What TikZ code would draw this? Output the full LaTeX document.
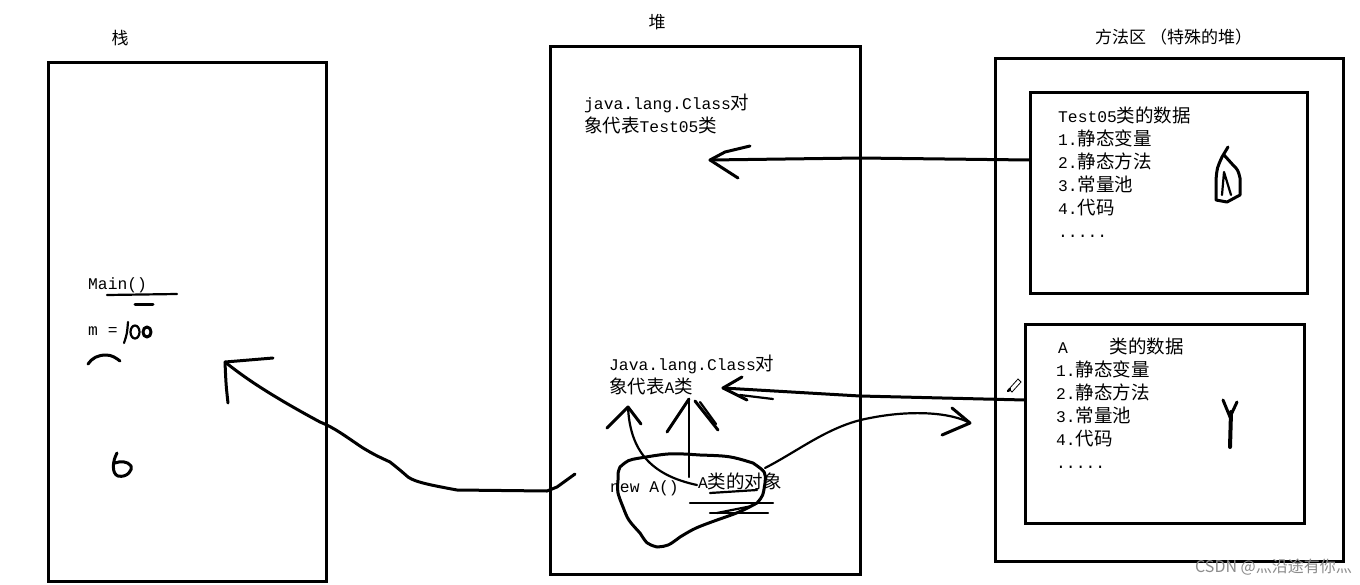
\documentclass[tikz,border=0pt]{standalone}
\usepackage{fontspec}
\setmonofont{Liberation Mono}
\newfontfamily\cjk{Noto Sans CJK SC}
\newcommand\zh[1]{{\cjk\fontsize{18.5}{23}\selectfont #1}}
\begin{document}
\begin{tikzpicture}[x=1pt,y=-1pt,
  region/.style={draw,line width=3pt},
  txt/.style={font=\fontsize{16.3}{23}\selectfont\ttfamily,align=left,anchor=west,inner sep=0pt},
  title/.style={font=\cjk\fontsize{17}{20}\selectfont,inner sep=0pt},
  ink/.style={line width=3pt,line cap=round,line join=round},
  thinink/.style={line width=2.2pt,line cap=round,line join=round}]
\useasboundingbox (0,0) rectangle (1360,584);
\fill[white] (0,0) rectangle (1360,584);
% regions
\draw[region] (48,62) rectangle (326,581);
\draw[region] (550,46) rectangle (860,574);
\draw[region] (995,58) rectangle (1343,561);
\draw[region] (1030,92) rectangle (1307,293);
\draw[region] (1025,324) rectangle (1304,523);
\coordinate (t05w) at (1030,160);
\coordinate (aw) at (1025,400);
% titles
\node[title] (stacklbl) at (120,38) {栈};
\node[title] (heaplbl) at (657,22) {堆};
\node[title,anchor=west] (malbl) at (1095,37) {方法区 （特殊的堆）};
% stack texts
\node[txt] (mainf) at (88,285) {Main()};
\node[txt] (mvar) at (88,331) {m =};
\draw[thinink] (107,295) -- (177,294);
\draw[ink] (135,304) -- (153,304);
\draw[thinink] (128,322) .. controls (127,334) .. (124,343);
\draw[thinink] (135,332) ellipse (4.5 and 6.5);
\draw[ink] (147,332) ellipse (4 and 5);
\draw[ink] (88,364) .. controls (92,358) and (98,355) .. (106,355) .. controls (112,355) and (116,358) .. (120,361);
\draw[ink] (117,453) .. controls (112,462) and (112,474) .. (118,476) .. controls (127,478) and (133,470) .. (131,466) .. controls (128,461) and (120,461) .. (115,463);
% heap texts
\node[txt] (cls05) at (584,114) {java.lang.Class\zh{对}\\\zh{象代表}Test05\zh{类}};
\node[txt] (clsA) at (609,375) {Java.lang.Class\zh{对}\\\zh{象代表}A\zh{类}};
\node[txt] (newA) at (610,488) {new A()};
\node[txt] (objA) at (698,481) {A\zh{类的对象}};
% blob
\draw[ink] (620,467) .. controls (628,460) .. (640,458) .. controls (670,453) .. (700,455)
  .. controls (730,456) .. (753,463) .. controls (766,472) .. (765,483)
  .. controls (763,496) .. (757,503) .. controls (740,512) .. (717,520)
  .. controls (695,528) .. (680,537) .. controls (668,546) .. (657,547)
  .. controls (647,544) .. (640,533) .. controls (628,520) .. (623,507)
  .. controls (617,492) .. (618,480) .. controls (618,472) .. (620,467);
% underlines
\draw[thinink] (710,493) -- (757,490);
\draw[thinink] (690,503) -- (773,503);
\draw[thinink] (710,513) -- (768,513);
\draw[thinink] (717,513) -- (752,506);
% arrows up to clsA
\coordinate (upL) at (628,407);
\coordinate (upM) at (689,399);
\draw[thinink] (697,485) .. controls (650,475) and (630,450) .. (upL);
\draw[ink] (607,428) -- (upL) -- (641,424);
\draw[thinink] (689,477) -- (upM);
\draw[ink] (667,432) -- (upM);
\draw[ink] (695,401) -- (718,430);
\draw[thinink] (700,402) -- (716,424);
% long curve to A region
\coordinate (rA) at (970,423);
\draw[thinink] (765,468) .. controls (800,450) and (830,425) .. (870,418) .. controls (910,410) and (950,412) .. (rA);
\draw[ink] (952,408) -- (rA) -- (942,435);
% arrow to stack
\coordinate (stk) at (225,362);
\draw[ink] (575,474) -- (557,487) -- (547,491) -- (457,490)
  .. controls (430,485) and (415,482) .. (408,477) .. controls (400,470) .. (390,462)
  .. controls (375,455) .. (363,448) .. controls (345,436) and (335,428) .. (320,422)
  .. controls (270,395) and (245,378) .. (stk);
\draw[ink] (273,358) -- (stk) .. controls (226,385) .. (228,403);
% arrow from Test05 box
\coordinate (h05) at (710,160);
\draw[ink] (t05w) -- (860,158) -- (h05);
\draw[ink] (750,146) -- (725,152) -- (h05) -- (738,178);
% arrow from A box
\coordinate (hA) at (723,388);
\draw[ink] (aw) -- (860,396) -- (hA);
\draw[ink] (742,377) -- (hA) -- (747,400);
\draw[thinink] (740,395) -- (773,399);
% method area texts
\node[txt] (t05) at (1058,172) {Test05\zh{类的数据}\\1.\zh{静态变量}\\2.\zh{静态方法}\\3.\zh{常量池}\\4.\zh{代码}\\.....};
\node[txt] (adata) at (1056,403) {\hspace{2pt}A\hspace{42pt}\zh{类的数据}\\1.\zh{静态变量}\\2.\zh{静态方法}\\3.\zh{常量池}\\4.\zh{代码}\\.....};
% scribbles
\draw[ink] (1228,147) -- (1222,157) .. controls (1217,168) .. (1216,180) -- (1216,200) -- (1227,202) -- (1240,195) -- (1240,178) .. controls (1238,170) .. (1233,165) -- (1224,155);
\draw[thinink] (1222,195) -- (1224,172) -- (1231,195);
\draw[ink] (1223,400) -- (1230,417) -- (1237,402);
\draw[line width=4pt,line cap=round] (1231,412) -- (1230,447);
% pencil
\draw[line width=2.5pt,line cap=round] (1008,391) -- (1010,389);
\draw[line width=0.8pt] (1009,389) -- (1018,379) -- (1021,382) -- (1012,392) -- cycle;
% watermark
\node[font=\cjk\fontsize{16}{18}\selectfont,text=black!45,anchor=east,inner sep=0pt] (wm) at (1352,567) {CSDN @灬沿途有你灬};
\end{tikzpicture}
\end{document}
